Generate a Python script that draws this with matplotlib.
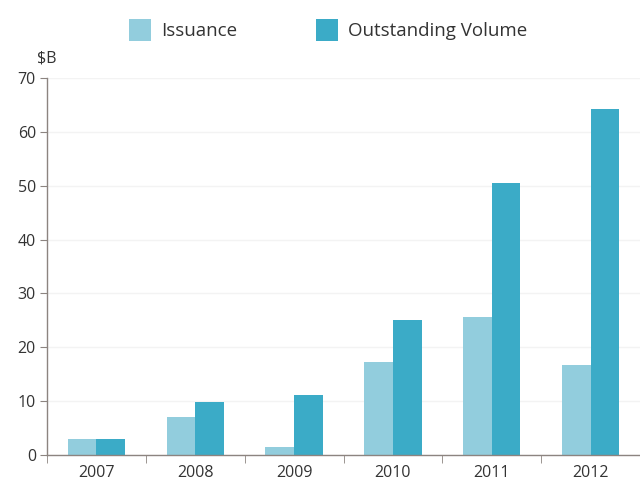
import matplotlib
matplotlib.use("Agg")
import matplotlib.pyplot as plt
import numpy as np
from matplotlib.patches import Patch

plt.rcParams['font.family'] = ['Open Sans', 'DejaVu Sans']

years = ["2007", "2008", "2009", "2010", "2011", "2012"]
issuance = [3.0, 7.0, 1.4, 17.2, 25.6, 16.8]
outstanding = [3.0, 9.9, 11.1, 25.0, 50.5, 64.2]
y_ticks = [0, 10, 20, 30, 40, 50, 60, 70]

c_iss = "#92CDDD"
c_out = "#3BABC7"
axis_col = "#8C8480"
text_col = "#333333"

fig = plt.figure(figsize=(6.4, 4.8), dpi=100)
ax = fig.add_axes([47/640, 25/480, 593/640, 377/480])

x = np.arange(len(years))
w = 0.29
ax.bar(x - w/2, issuance, width=w, color=c_iss, zorder=2)
ax.bar(x + w/2, outstanding, width=w, color=c_out, zorder=2)

ax.set_xlim(-0.5, 5.46)
ax.set_ylim(0, 70)
ax.set_yticks(y_ticks)
ax.set_xticks(x)
ax.set_xticklabels(years)
ax.set_xticks(np.arange(-0.5, 5.6, 1.0), minor=True)

ax.yaxis.grid(True, color="#F3F3F3", linewidth=1, zorder=0)
for s in ["top", "right"]:
    ax.spines[s].set_visible(False)
for s in ["left", "bottom"]:
    ax.spines[s].set_color(axis_col)
    ax.spines[s].set_linewidth(1)

ax.tick_params(axis="y", length=5, color=axis_col, labelsize=11.5, labelcolor=text_col, pad=3)
ax.tick_params(axis="x", which="major", length=0, labelsize=11.5, labelcolor=text_col, pad=7)
ax.tick_params(axis="x", which="minor", length=6, color=axis_col)

fig.text(37/640, 1 - 58/480, r"\$B", fontsize=11.5, color=text_col, va="center", ha="left")

handles = [Patch(facecolor=c_iss, label="Issuance"),
           Patch(facecolor=c_out, label="Outstanding Volume")]
fig.legend(handles=handles, loc="center", bbox_to_anchor=(328/640, 1 - 30/480),
           ncol=2, frameon=False, fontsize=13.5, handlelength=1.17, handleheight=1.39,
           columnspacing=4.2, handletextpad=0.55, labelcolor=text_col)

fig.savefig("out.png", dpi=100)
